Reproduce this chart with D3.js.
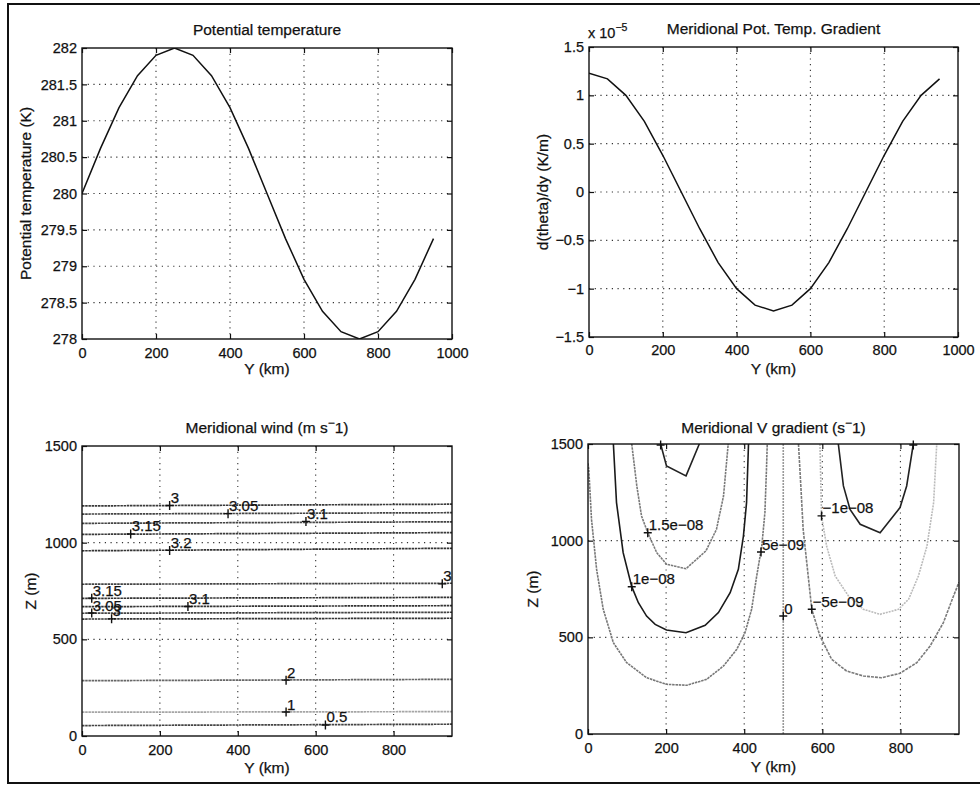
<!DOCTYPE html>
<html>
<head>
<meta charset="utf-8">
<script src="https://cdn.jsdelivr.net/npm/d3@7"></script>
<style>
  body { margin: 0; background: #fff; }
  svg { font-family: "Liberation Sans", Arial, sans-serif; }
  svg text { stroke: #111; stroke-width: 0.25px; }
</style>
</head>
<body>
<svg id="fig" width="980" height="786"></svg>
<script>
// ---------- data ----------
const yKm = [0, 50, 100, 150, 200, 250, 300, 350, 400, 450, 500, 550, 600, 650, 700, 750, 800, 850, 900, 950];
const potTemp = [280, 280.62, 281.18, 281.62, 281.9, 282, 281.9, 281.62, 281.18, 280.62,
                 280, 279.38, 278.82, 278.38, 278.1, 278, 278.1, 278.38, 278.82, 279.38];
const potTempGrad = [1.23e-5, 1.17e-5, 1.0e-5, 0.73e-5, 0.38e-5, 0, -0.38e-5, -0.73e-5, -1.0e-5, -1.17e-5,
                     -1.23e-5, -1.17e-5, -1.0e-5, -0.73e-5, -0.38e-5, 0, 0.38e-5, 0.73e-5, 1.0e-5, 1.17e-5];

const tempTicks = [278, 278.5, 279, 279.5, 280, 280.5, 281, 281.5, 282];
const gradTicks = [-1.5e-5, -1e-5, -0.5e-5, 0, 0.5e-5, 1e-5, 1.5e-5];
const kmTicks1000 = [0, 200, 400, 600, 800, 1000];
const kmTicks950 = [0, 200, 400, 600, 800];
const zTicks = [0, 500, 1000, 1500];

// meridional wind: contour levels, height at Y=0 and at Y=950 (m)
const windLevels = [3, 3.05, 3.1, 3.15, 3.2, 3, 3.15, 3.1, 3.05, 3, 2, 1, 0.5];
const windZLeft  = [1190, 1148, 1100, 1043, 958, 785, 712, 669, 635, 605, 286, 123, 54];
const windZRight = [1199, 1155, 1108, 1052, 971, 790, 717, 674, 640, 609, 293, 126, 61];
const windShade  = ["#3a3a3a", "#444", "#444", "#3a3a3a", "#333", "#444", "#333", "#333", "#444", "#333", "#666", "#a5a5a5", "#444"];
// label anchors (Y km, Z m)
const windLabelY = [225, 375, 575, 125, 225, 925, 25, 272, 25, 76, 524, 524, 625];
const windLabelZ = [1192, 1150, 1110, 1045, 960, 787, 713, 670, 636, 606, 289, 124, 57];
const windLabelText = ["3", "3.05", "3.1", "3.15", "3.2", "3", "3.15", "3.1", "3.05", "3", "2", "1", "0.5"];

// meridional V gradient: contour polylines [Y km, Z m]
const vgradLevels = [2e-8, 1.5e-8, 1e-8, 5e-9, 0, -5e-9, -1e-8, -1.5e-8];
const vgrad2e8 = [[186, 1500], [201, 1386], [251, 1335], [285, 1500]];
const vgrad15e9 = [[112, 1500], [125, 1283], [137, 1128], [153, 1041], [176, 938], [201, 878], [251, 855],
                   [302, 947], [329, 1059], [347, 1231], [359, 1500]];
const vgrad1e8 = [[65, 1500], [73, 1197], [90, 938], [112, 762], [129, 679], [150, 610], [172, 567], [201, 538],
                  [251, 524], [300, 562], [334, 628], [364, 731], [385, 852], [398, 1024], [406, 1197], [411, 1500]];
const vgrad5e9 = [[0, 1400], [2, 1369], [9, 1110], [22, 852], [39, 645], [65, 472], [99, 369], [150, 291],
                  [201, 257], [253, 252], [304, 283], [347, 352], [381, 438], [402, 524], [419, 645],
                  [432, 817], [445, 972], [453, 1145], [457, 1369], [459, 1500]];
const vgrad0 = [[500, 0], [500, 1500]];
const vgradM5e9 = [[539, 1500], [545, 1283], [551, 1058], [562, 852], [573, 645], [594, 507], [624, 386],
                   [662, 326], [705, 300], [752, 291], [799, 314], [842, 369], [876, 455], [910, 576],
                   [936, 714], [950, 785]];
const vgradM1e8 = [[594, 1500], [598, 1128], [611, 972], [633, 817], [667, 714], [705, 645], [748, 619],
                   [795, 645], [821, 697], [846, 817], [868, 972], [885, 1197], [893, 1500]];
const vgradM15e9 = [[641, 1500], [654, 1283], [671, 1162], [697, 1085], [748, 1041], [799, 1171], [816, 1283], [833, 1500]];
const vgradLines = [vgrad2e8, vgrad15e9, vgrad1e8, vgrad5e9, vgrad0, vgradM5e9, vgradM1e8, vgradM15e9];
const vgradShade = ["#222", "#7a7a7a", "#1a1a1a", "#777", "#999", "#7a7a7a", "#bbb", "#222"];
const vgradDash = [null, "2.5,0.8", null, "2.5,0.8", "2,1", "3,1", "2,1", null];
// label anchors
const vgradLabelY = [186, 153, 112, 443, 500, 573, 598, 833];
const vgradLabelZ = [1495, 1041, 762, 941, 610, 645, 1128, 1495];
const vgradLabelText = ["", "1.5e\u221208", "1e\u221208", "5e\u221209", "0", "\u22125e\u221209", "\u22121e\u221208", ""];

// ---------- drawing ----------
const svg = d3.select("#fig");
const fs = 15.5;

svg.append("rect")
    .attr("x", 8).attr("y", 4)
    .attr("width", 990).attr("height", 779)
    .attr("fill", "none")
    .attr("stroke", "#111")
    .attr("stroke-width", 2);

function makePanel(id, box, xDomain, yDomain, xTicks, yTicks, yFormat, xPad) {
    const g = svg.append("g");
    const x = d3.scaleLinear().domain(xDomain).range([box.left, box.right]);
    const y = d3.scaleLinear().domain(yDomain).range([box.bottom, box.top]);

    svg.append("clipPath").attr("id", id)
        .append("rect")
        .attr("x", box.left).attr("y", box.top)
        .attr("width", box.right - box.left).attr("height", box.bottom - box.top);

    // dotted grid
    g.selectAll("line.vg")
        .data(xTicks.filter(t => t > xDomain[0] && t < xDomain[1]))
        .join("line")
        .attr("x1", d => x(d)).attr("x2", d => x(d))
        .attr("y1", box.top).attr("y2", box.bottom)
        .attr("stroke", "#333").attr("stroke-width", 1.1)
        .attr("stroke-dasharray", "1.2,4.5");
    g.selectAll("line.hg")
        .data(yTicks.filter(t => t > yDomain[0] && t < yDomain[1]))
        .join("line")
        .attr("x1", box.left).attr("x2", box.right)
        .attr("y1", d => y(d)).attr("y2", d => y(d))
        .attr("stroke", "#333").attr("stroke-width", 1.1)
        .attr("stroke-dasharray", "1.2,4.5");

    const axes = [
        g.append("g").attr("transform", `translate(0,${box.bottom})`)
            .call(d3.axisBottom(x).tickValues(xTicks).tickSize(-5).tickPadding(xPad).tickFormat(d3.format("~g"))),
        g.append("g").attr("transform", `translate(${box.left},0)`)
            .call(d3.axisLeft(y).tickValues(yTicks).tickSize(-5).tickPadding(5).tickFormat(yFormat)),
        g.append("g").attr("transform", `translate(0,${box.top})`)
            .call(d3.axisTop(x).tickValues(xTicks).tickSize(-5).tickFormat("")),
        g.append("g").attr("transform", `translate(${box.right},0)`)
            .call(d3.axisRight(y).tickValues(yTicks).tickSize(-5).tickFormat(""))
    ];
    axes.forEach(a => {
        a.attr("font-family", null).attr("font-size", 14.5);
        a.select(".domain").remove();
        a.selectAll(".tick line").attr("stroke", "#111").attr("stroke-width", 1.2);
        a.selectAll(".tick text").attr("fill", "#111");
    });

    const plot = g.append("g").attr("clip-path", `url(#${id})`);

    g.append("rect")
        .attr("x", box.left).attr("y", box.top)
        .attr("width", box.right - box.left).attr("height", box.bottom - box.top)
        .attr("fill", "none").attr("stroke", "#111").attr("stroke-width", 1.4);

    return { g, plot, x, y, box };
}

function addTitle(p, text, sup, tail, baseline) {
    const t = p.g.append("text")
        .attr("x", (p.box.left + p.box.right) / 2)
        .attr("y", baseline)
        .attr("text-anchor", "middle")
        .attr("font-size", fs)
        .attr("fill", "#111")
        .text(text);
    if (sup) {
        t.append("tspan").attr("dy", -6).attr("font-size", 12).text(sup);
        t.append("tspan").attr("dy", 6).text(tail);
    }
}

function addLabels(p, xLabel, xBase, yLabel, yBase) {
    p.g.append("text")
        .attr("x", (p.box.left + p.box.right) / 2)
        .attr("y", xBase)
        .attr("text-anchor", "middle")
        .attr("font-size", fs)
        .attr("fill", "#111")
        .text(xLabel);
    p.g.append("text")
        .attr("transform", `translate(${yBase},${(p.box.top + p.box.bottom) / 2}) rotate(-90)`)
        .attr("text-anchor", "middle")
        .attr("font-size", fs)
        .attr("fill", "#111")
        .text(yLabel);
}

function addMarkers(p, ys, zs, texts) {
    const pts = ys.map((d, i) => ({ px: p.x(d), py: p.y(zs[i]), label: texts[i] }));
    p.g.selectAll("path.plus")
        .data(pts)
        .join("path")
        .attr("d", d => `M${d.px - 4},${d.py}H${d.px + 4}M${d.px},${d.py - 4.5}V${d.py + 4.5}`)
        .attr("stroke", "#111").attr("stroke-width", 1.4);
    p.g.selectAll("text.clab")
        .data(pts.filter(d => d.label !== ""))
        .join("text")
        .attr("x", d => d.px + 1)
        .attr("y", d => d.py - 2.5)
        .attr("font-size", 15)
        .attr("fill", "#111")
        .text(d => d.label);
}

const fmt = d3.format("~g");

// panel 1: potential temperature
const p1 = makePanel("c1", { left: 82, right: 452, top: 48, bottom: 339 },
    [0, 1000], [278, 282], kmTicks1000, tempTicks, fmt, 8.5);
p1.plot.append("path")
    .datum(yKm.map((d, i) => [d, potTemp[i]]))
    .attr("fill", "none").attr("stroke", "#111").attr("stroke-width", 1.5)
    .attr("d", d3.line().x(d => p1.x(d[0])).y(d => p1.y(d[1])));
addTitle(p1, "Potential temperature", null, null, 34.5);
addLabels(p1, "Y (km)", 374, "Potential temperature (K)", 31);

// panel 2: meridional gradient of potential temperature
const p2 = makePanel("c2", { left: 589, right: 958, top: 47, bottom: 337 },
    [0, 1000], [-1.5e-5, 1.5e-5], kmTicks1000, gradTicks, d => fmt(+(d / 1e-5).toFixed(2)), 8);
p2.plot.append("path")
    .datum(yKm.map((d, i) => [d, potTempGrad[i]]))
    .attr("fill", "none").attr("stroke", "#111").attr("stroke-width", 1.5)
    .attr("d", d3.line().x(d => p2.x(d[0])).y(d => p2.y(d[1])));
addTitle(p2, "Meridional Pot. Temp. Gradient", null, null, 33.5);
addLabels(p2, "Y (km)", 374, "d(theta)/dy (K/m)", 548);
const expo = p2.g.append("text")
    .attr("x", 588).attr("y", 38)
    .attr("font-size", 14.5).attr("fill", "#111")
    .text("x 10");
expo.append("tspan").attr("dy", -7).attr("font-size", 10.5).text("\u22125");

// panel 3: meridional wind contours
const p3 = makePanel("c3", { left: 82, right: 452, top: 446, bottom: 736 },
    [0, 950], [0, 1500], kmTicks950, zTicks, fmt, 8.5);
p3.plot.selectAll("path.wind")
    .data(windLevels.map((lv, i) => [[0, windZLeft[i]], [950, windZRight[i]]]))
    .join("path")
    .attr("fill", "none")
    .attr("stroke", (d, i) => windShade[i])
    .attr("stroke-width", 1.7)
    .attr("stroke-dasharray", "2.5,0.7")
    .attr("d", d3.line().x(d => p3.x(d[0])).y(d => p3.y(d[1])));
addMarkers(p3, windLabelY, windLabelZ, windLabelText);
addTitle(p3, "Meridional wind (m s", "\u2212", "1)", 433);
addLabels(p3, "Y (km)", 773, "Z (m)", 36);

// panel 4: meridional V gradient contours
const p4 = makePanel("c4", { left: 588, right: 959, top: 444, bottom: 734 },
    [0, 950], [0, 1500], kmTicks950, zTicks, fmt, 8.5);
p4.plot.selectAll("path.vgrad")
    .data(vgradLines)
    .join("path")
    .attr("fill", "none")
    .attr("stroke", (d, i) => vgradShade[i])
    .attr("stroke-width", 1.6)
    .attr("stroke-dasharray", (d, i) => vgradDash[i])
    .attr("d", d3.line().x(d => p4.x(d[0])).y(d => p4.y(d[1])));
addMarkers(p4, vgradLabelY, vgradLabelZ, vgradLabelText);
addTitle(p4, "Meridional V gradient (s", "\u2212", "1)", 432.5);
addLabels(p4, "Y (km)", 772, "Z (m)", 538);
</script>
</body>
</html>
